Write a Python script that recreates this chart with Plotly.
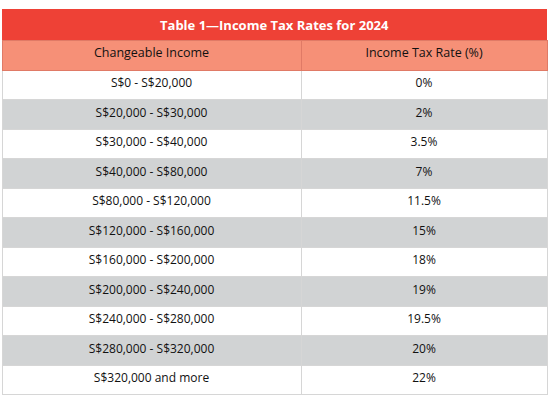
import plotly.graph_objects as go

title = "Table 1—Income Tax Rates for 2024"
headers = ["Changeable Income", "Income Tax Rate (%)"]
income_brackets = [
    "S$0 - S$20,000",
    "S$20,000 - S$30,000",
    "S$30,000 - S$40,000",
    "S$40,000 - S$80,000",
    "S$80,000 - S$120,000",
    "S$120,000 - S$160,000",
    "S$160,000 - S$200,000",
    "S$200,000 - S$240,000",
    "S$240,000 - S$280,000",
    "S$280,000 - S$320,000",
    "S$320,000 and more",
]
tax_rates = ["0%", "2%", "3.5%", "7%", "11.5%", "15%", "18%", "19%", "19.5%", "20%", "22%"]

W, H = 550, 408
x0, x1 = 2, 547
title_top, title_bot = 9, 40
table_bot = 395

row_colors = ["#FFFFFF" if i % 2 == 0 else "#D1D3D4" for i in range(len(income_brackets))]
font_family = "Open Sans, Liberation Sans, sans-serif"

fig = go.Figure(go.Table(
    domain=dict(x=[x0 / W, x1 / W], y=[(H - table_bot) / H, (H - title_bot) / H]),
    columnwidth=[299, 246],
    header=dict(
        values=headers,
        fill_color="#F69077",
        line=dict(color="#E07A66", width=1),
        align="center",
        height=30,
        font=dict(family=font_family, size=12.5, color="#111111"),
    ),
    cells=dict(
        values=[income_brackets, tax_rates],
        fill_color=[row_colors, row_colors],
        line=dict(color="#D6D6D6", width=1),
        align="center",
        height=29.5,
        font=dict(family=font_family, size=12, color="#111111"),
    ),
))

fig.add_shape(
    type="rect", xref="paper", yref="paper",
    x0=x0 / W, x1=x1 / W,
    y0=(H - title_bot) / H, y1=(H - title_top) / H,
    fillcolor="#EE4136", line=dict(width=0), layer="below",
)
fig.add_annotation(
    xref="paper", yref="paper",
    x=(x0 + x1) / 2 / W, y=(H - (title_top + title_bot) / 2) / H,
    text="<b>" + title + "</b>", showarrow=False,
    font=dict(family=font_family, size=13, color="#FFFFFF"),
    xanchor="center", yanchor="middle",
)

fig.update_layout(
    width=W, height=H,
    margin=dict(l=0, r=0, t=0, b=0),
    paper_bgcolor="#FFFFFF",
    plot_bgcolor="#FFFFFF",
)

fig.write_html(
    "out.html",
    config={"displayModeBar": False},
    post_script="document.body.style.margin='0';document.body.style.padding='0';",
)
